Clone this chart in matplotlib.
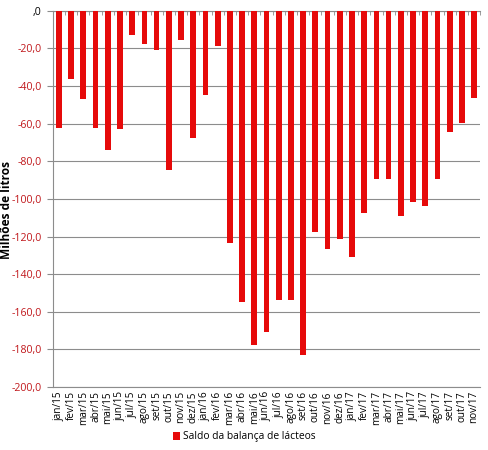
import numpy as np
import matplotlib
matplotlib.use("Agg")
import matplotlib.pyplot as plt
from matplotlib.ticker import FuncFormatter

# ---------- DATA ----------
months = ["jan/15", "fev/15", "mar/15", "abr/15", "mai/15", "jun/15", "jul/15",
          "ago/15", "set/15", "out/15", "nov/15", "dez/15",
          "jan/16", "fev/16", "mar/16", "abr/16", "mai/16", "jun/16", "jul/16",
          "ago/16", "set/16", "out/16", "nov/16", "dez/16",
          "jan/17", "fev/17", "mar/17", "abr/17", "mai/17", "jun/17", "jul/17",
          "ago/17", "set/17", "out/17", "nov/17"]
saldo = [-62.4, -36.4, -47.0, -62.4, -73.8, -63.1, -12.6,
         -17.4, -20.6, -84.4, -15.3, -67.4,
         -45.0, -18.5, -123.6, -154.6, -177.8, -170.6, -153.9,
         -153.9, -183.2, -117.4, -126.4, -121.4,
         -130.7, -107.6, -89.5, -89.5, -109.2, -101.8, -103.9,
         -89.5, -64.2, -59.4, -46.6]
series_name = "Saldo da balança de lácteos"
# ---------------------------

plt.rcParams["font.family"] = ["Open Sans", "DejaVu Sans"]

RED = "#E60A0A"
LABEL_RED = "#C0171B"
GRID = "#8C8C8C"

fig = plt.figure(figsize=(4.89, 4.5), dpi=100)
ax = fig.add_axes([0.108, 0.14, 0.874, 0.836])

x = np.arange(len(months))
ax.bar(x, saldo, width=0.47, color=RED, label=series_name, zorder=3)

ax.set_xlim(-0.5, len(months) - 0.5)
ax.set_ylim(-200, 0)
ax.set_yticks(np.arange(-200, 1, 20))


def fmt(v, pos):
    if abs(v) < 1e-9:
        return ",0"
    return f"{v:.1f}".replace(".", ",")


ax.yaxis.set_major_formatter(FuncFormatter(fmt))
for lbl in ax.get_yticklabels():
    lbl.set_color(LABEL_RED if lbl.get_text() != ",0" else "black")
ax.tick_params(axis="y", labelsize=7.6, length=4, color=GRID, pad=4)

ax.set_xticks(x)
ax.set_xticklabels(months, rotation=90, fontsize=7.2)
ax.set_xticks(np.arange(len(months) + 1) - 0.5, minor=True)
ax.tick_params(axis="x", which="major", length=0, pad=3)
ax.tick_params(axis="x", which="minor", bottom=False, top=True,
               direction="in", length=3, color=GRID)

ax.grid(axis="y", color=GRID, linewidth=0.8, zorder=0)
for side in ["left", "bottom", "top"]:
    ax.spines[side].set_color(GRID)
    ax.spines[side].set_linewidth(0.8)
ax.spines["right"].set_visible(False)

# axis title close to the tick labels, as in the original
fig.text(7 / 489, 1 - 210 / 450, "Milhões de litros", rotation=90,
         ha="center", va="center", fontsize=8.6, fontweight="bold")

fig.legend(loc="center", bbox_to_anchor=(0.5, 1 - 437 / 450), frameon=False,
           fontsize=7.4, handlelength=0.7, handleheight=0.7, handletextpad=0.3)

fig.savefig("out.png", dpi=100)
